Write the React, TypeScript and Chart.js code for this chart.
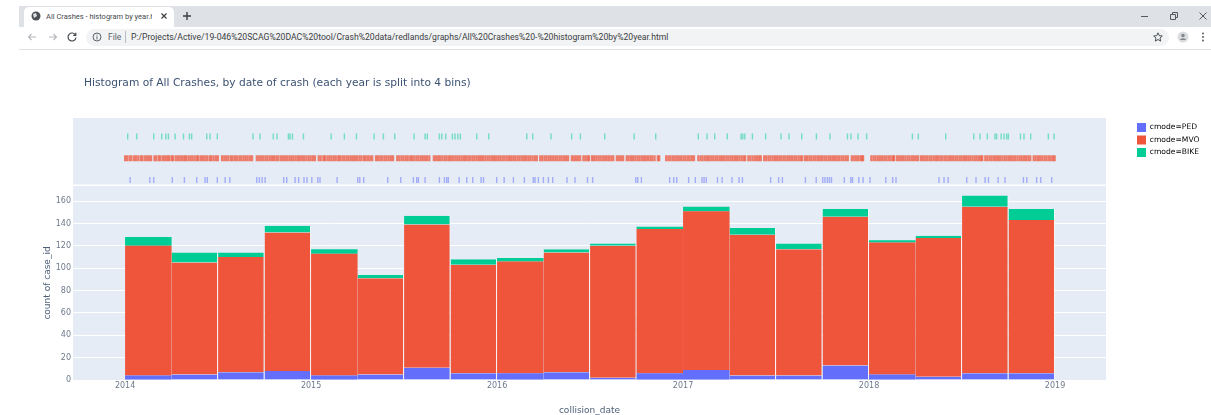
import React, { useEffect, useRef } from "react";
import { Chart, registerables } from "chart.js";

Chart.register(...registerables);

const binStarts = [
  2014, 2014.25, 2014.5, 2014.75, 2015, 2015.25, 2015.5, 2015.75, 2016, 2016.25,
  2016.5, 2016.75, 2017, 2017.25, 2017.5, 2017.75, 2018, 2018.25, 2018.5, 2018.75,
];
const pedCounts = [4, 5, 7, 8, 4, 5, 11, 6, 6, 7, 2, 6, 9, 4, 4, 13, 5, 3, 6, 6];
const mvoCounts = [116, 100, 103, 124, 109, 86, 128, 97, 100, 107, 118, 129, 142, 126, 113, 133, 118, 124, 149, 137];
const bikeCounts = [8, 9, 4, 6, 4, 3, 8, 5, 3, 3, 2, 2, 4, 6, 5, 7, 2, 2, 10, 10];

const yearTicks = [2014, 2015, 2016, 2017, 2018, 2019];
const countTicks = [0, 20, 40, 60, 80, 100, 120, 140, 160];

// Rug values: position inside the period, in years since 2014
const pedRug = [
  0.027, 0.133, 0.154, 0.254, 0.319, 0.385, 0.43, 0.442, 0.496, 0.538, 0.563, 0.708, 0.722, 0.737, 0.753, 0.853, 0.869,
  0.914, 0.933, 0.962, 0.978, 1.004, 1.036, 1.048, 1.14, 1.251, 1.262, 1.283, 1.412, 1.482, 1.55, 1.568, 1.577, 1.613,
  1.69, 1.717, 1.729, 1.738, 1.796, 1.837, 1.869, 1.914, 1.927, 1.998, 2.038, 2.088, 2.147, 2.195, 2.204, 2.222, 2.249,
  2.276, 2.299, 2.376, 2.419, 2.486, 2.514, 2.746, 2.756, 2.776, 2.928, 2.95, 2.966, 3.03, 3.066, 3.102, 3.113, 3.125,
  3.185, 3.21, 3.263, 3.301, 3.319, 3.471, 3.514, 3.534, 3.658, 3.716, 3.751, 3.763, 3.776, 3.787, 3.798, 3.867, 3.902,
  3.911, 3.945, 3.968, 4.005, 4.09, 4.127, 4.145, 4.376, 4.403, 4.425, 4.525, 4.575, 4.624, 4.642, 4.694, 4.731, 4.83,
  4.848, 4.901, 4.923, 4.982,
];
const bikeRug = [
  0.014, 0.063, 0.154, 0.197, 0.219, 0.233, 0.269, 0.314, 0.346, 0.358, 0.439, 0.457, 0.496, 0.688, 0.726, 0.797, 0.817,
  0.878, 0.887, 0.9, 0.959, 1.108, 1.179, 1.244, 1.339, 1.389, 1.45, 1.554, 1.613, 1.625, 1.69, 1.703, 1.724, 1.76,
  1.774, 1.789, 1.803, 1.891, 1.955, 2.16, 2.192, 2.29, 2.401, 2.448, 2.579, 2.737, 2.853, 3.082, 3.129, 3.17, 3.238,
  3.312, 3.321, 3.332, 3.373, 3.444, 3.527, 3.57, 3.638, 3.717, 3.79, 3.884, 3.903, 3.941, 3.987, 4.233, 4.265, 4.412,
  4.563, 4.597, 4.636, 4.677, 4.686, 4.71, 4.726, 4.74, 4.749, 4.814, 4.833, 4.869, 4.964, 4.995,
];
const mvoRug2014 = [
  0.0, 0.011, 0.024, 0.034, 0.048, 0.059, 0.071, 0.084, 0.093, 0.106, 0.118, 0.129, 0.14, 0.158, 0.168, 0.181, 0.19,
  0.203, 0.214, 0.226, 0.236, 0.249, 0.258, 0.272, 0.283, 0.294, 0.306, 0.318, 0.327, 0.34, 0.351, 0.362, 0.374, 0.386,
  0.395, 0.408, 0.419, 0.431, 0.442, 0.455, 0.464, 0.476, 0.488, 0.499, 0.521, 0.533, 0.544, 0.555, 0.568, 0.578, 0.59,
  0.601, 0.614, 0.625, 0.637, 0.648, 0.659, 0.671, 0.683, 0.708, 0.72, 0.732, 0.743, 0.755, 0.766, 0.778, 0.79, 0.801,
  0.813, 0.824, 0.837, 0.848, 0.859, 0.871, 0.883, 0.894, 0.905, 0.917, 0.929, 0.94, 0.952, 0.963, 0.975, 0.987, 0.998,
];
const mvoRug2015 = [
  1.01, 1.021, 1.041, 1.052, 1.066, 1.075, 1.088, 1.099, 1.11, 1.122, 1.133, 1.146, 1.155, 1.168, 1.179, 1.191, 1.202,
  1.214, 1.226, 1.237, 1.248, 1.26, 1.271, 1.284, 1.294, 1.306, 1.318, 1.329, 1.349, 1.36, 1.372, 1.383, 1.395, 1.406,
  1.418, 1.43, 1.441, 1.463, 1.474, 1.486, 1.497, 1.509, 1.52, 1.533, 1.543, 1.555, 1.567, 1.578, 1.59, 1.601, 1.613,
  1.624, 1.636, 1.66, 1.671, 1.683, 1.694, 1.706, 1.718, 1.729, 1.741, 1.752, 1.764, 1.776, 1.787, 1.798, 1.81, 1.822,
  1.833, 1.845, 1.856, 1.868, 1.879, 1.891, 1.903, 1.914, 1.925, 1.937, 1.949, 1.96, 1.972, 1.983, 1.994,
];
const mvoRug2016 = [
  2.006, 2.017, 2.029, 2.04, 2.052, 2.064, 2.075, 2.087, 2.098, 2.11, 2.121, 2.133, 2.145, 2.156, 2.168, 2.179, 2.191,
  2.203, 2.214, 2.232, 2.243, 2.255, 2.266, 2.278, 2.289, 2.301, 2.313, 2.324, 2.336, 2.347, 2.359, 2.37, 2.382, 2.402,
  2.413, 2.425, 2.436, 2.447, 2.464, 2.475, 2.486, 2.494, 2.51, 2.521, 2.533, 2.545, 2.556, 2.568, 2.579, 2.59, 2.602,
  2.614, 2.625, 2.644, 2.655, 2.667, 2.678, 2.697, 2.708, 2.72, 2.731, 2.743, 2.755, 2.766, 2.778, 2.789, 2.8, 2.812,
  2.824, 2.835, 2.847, 2.864, 2.872, 2.909, 2.921, 2.932, 2.944, 2.955, 2.967, 2.979, 2.99,
];
const mvoRug2017 = [
  3.002, 3.013, 3.025, 3.036, 3.048, 3.059, 3.082, 3.094, 3.105, 3.117, 3.129, 3.14, 3.152, 3.163, 3.175, 3.186, 3.198,
  3.21, 3.221, 3.233, 3.244, 3.256, 3.267, 3.279, 3.29, 3.302, 3.314, 3.325, 3.334, 3.351, 3.362, 3.374, 3.386, 3.397,
  3.409, 3.418, 3.436, 3.447, 3.459, 3.47, 3.482, 3.494, 3.505, 3.517, 3.528, 3.54, 3.551, 3.563, 3.574, 3.586, 3.598,
  3.609, 3.621, 3.632, 3.641, 3.656, 3.667, 3.679, 3.69, 3.702, 3.713, 3.725, 3.737, 3.748, 3.76, 3.771, 3.783, 3.794,
  3.806, 3.817, 3.829, 3.84, 3.852, 3.863, 3.875, 3.886, 3.907, 3.918, 3.93, 3.941, 3.953, 3.962, 3.968,
];
const mvoRug2018 = [
  4.012, 4.024, 4.035, 4.047, 4.058, 4.07, 4.082, 4.093, 4.105, 4.116, 4.128, 4.134, 4.149, 4.16, 4.172, 4.183, 4.195,
  4.207, 4.218, 4.23, 4.241, 4.253, 4.264, 4.279, 4.29, 4.302, 4.313, 4.325, 4.336, 4.348, 4.36, 4.371, 4.383, 4.394,
  4.406, 4.417, 4.429, 4.44, 4.452, 4.464, 4.475, 4.487, 4.498, 4.51, 4.521, 4.533, 4.544, 4.556, 4.568, 4.579, 4.591,
  4.602, 4.609, 4.625, 4.636, 4.648, 4.659, 4.671, 4.682, 4.694, 4.705, 4.717, 4.729, 4.74, 4.752, 4.763, 4.775, 4.786,
  4.798, 4.81, 4.821, 4.833, 4.844, 4.856, 4.867, 4.885, 4.896, 4.908, 4.919, 4.931, 4.943, 4.954, 4.966, 4.977, 4.989,
  4.998,
];

const seriesNames = ["cmode=PED", "cmode=MVO", "cmode=BIKE"];
const PED = "#636efa";
const MVO = "#ef553b";
const BIKE = "#00cc96";
const FONT = "'DejaVu Sans', Verdana, sans-serif";
const TICK = "#6d7a8c";
const boundariesWithGap = [1, 2, 3, 5, 6, 7, 9, 10, 13, 14, 15, 17, 18, 19];

const rugPoints = (values: number[], row: number) => values.map((v) => ({ x: 2014 + v, y: row }));
const barPoints = (counts: number[]) => counts.map((y, i) => ({ x: binStarts[i] + 0.125, y }));

const chromePlugin = {
  id: "plotFrame",
  beforeLayout(chart: any) {
    const legend = chart.legend;
    if (legend && !legend.__sized) {
      legend.__sized = true;
      const fit = legend.fit;
      legend.fit = function () {
        fit.call(legend);
        legend.width = 105;
      };
    }
  },
  afterLayout(chart: any) {
    chart.titleBlock.left = 84;
    chart.legend.left = 1133.5;
    chart.legend.top = 119.5;
  },
  beforeDraw(chart: any) {
    const { ctx, chartArea } = chart;
    ctx.save();
    ctx.fillStyle = "#e5ecf6";
    ctx.fillRect(chartArea.left, chartArea.top, chartArea.right - chartArea.left, chartArea.bottom - chartArea.top);
    ctx.fillStyle = "#ffffff";
    ctx.fillRect(chartArea.left, chart.scales.y.top - 1.5, chartArea.right - chartArea.left, 1.5);
    ctx.restore();
  },
};

function Icon({ x, y, children }: { x: number; y: number; children: React.ReactNode }) {
  return (
    <svg style={{ position: "absolute", left: x, top: y }} width={14} height={14} viewBox="0 0 14 14">
      {children}
    </svg>
  );
}

function Browser() {
  const label: React.CSSProperties = {
    position: "absolute",
    fontFamily: "Roboto, sans-serif",
    whiteSpace: "nowrap",
    color: "#5f6368",
  };
  return (
    <div style={{ position: "absolute", left: 0, top: 0, width: 1211, height: 50 }}>
      <div style={{ position: "absolute", left: 19, top: 6, width: 1192, height: 21, background: "#dee1e6" }} />
      <div style={{ position: "absolute", left: 24, top: 7, width: 150, height: 20, background: "#fff", borderRadius: "5px 5px 0 0" }} />
      <div style={{ position: "absolute", left: 19, top: 27, width: 1192, height: 22, background: "#fff", borderBottom: "1px solid #dfe1e5" }} />
      <div style={{ position: "absolute", left: 86, top: 29, width: 1083, height: 17, background: "#f1f3f4", borderRadius: 9 }} />
      <Icon x={29} y={9}>
        <circle cx="7" cy="7" r="4.5" fill="#4d5156" />
        <path d="M4 5 L7 4 L8 7 L5 9 Z" fill="#dfe1e5" />
      </Icon>
      <div style={{ ...label, left: 46, top: 11, width: 106, overflow: "hidden", fontSize: 7.5, lineHeight: "11px", color: "#45494e" }}>
        All Crashes - histogram by year.html
      </div>
      <Icon x={157} y={9}>
        <path d="M4.5 4.5 L9.5 9.5 M9.5 4.5 L4.5 9.5" stroke="#3c4043" strokeWidth="1.2" />
      </Icon>
      <Icon x={180} y={9}>
        <path d="M7 3 V11 M3 7 H11" stroke="#3c4043" strokeWidth="1.4" />
      </Icon>
      <Icon x={25} y={30}>
        <path d="M11 7 H3.5 M6.5 4 L3.5 7 L6.5 10" stroke="#b4b7bb" strokeWidth="1.1" fill="none" />
      </Icon>
      <Icon x={46} y={30}>
        <path d="M3 7 H10.5 M7.5 4 L10.5 7 L7.5 10" stroke="#b4b7bb" strokeWidth="1.1" fill="none" />
      </Icon>
      <Icon x={65} y={30}>
        <path d="M10.5 5 A4 4 0 1 0 11 7.5 M10.8 2.8 V5.4 H8.2" stroke="#4a4e52" strokeWidth="1.2" fill="none" />
      </Icon>
      <Icon x={90} y={30}>
        <circle cx="7" cy="7" r="4" stroke="#5f6368" strokeWidth="1" fill="none" />
        <path d="M7 6.3 V9.4 M7 4.6 V5.5" stroke="#5f6368" strokeWidth="1" />
      </Icon>
      <div style={{ ...label, left: 108, top: 32, fontSize: 8.5, lineHeight: "11px" }}>File</div>
      <div style={{ position: "absolute", left: 125, top: 31, width: 1, height: 12, background: "#b8bcc0" }} />
      <div style={{ ...label, left: 131, top: 32, fontSize: 8.65, lineHeight: "11px", color: "#3c4043" }}>
        P:/Projects/Active/19-046%20SCAG%20DAC%20tool/Crash%20data/redlands/graphs/All%20Crashes%20-%20histogram%20by%20year.html
      </div>
      <Icon x={1151} y={30}>
        <path d="M7 2.8 L8.3 5.7 L11.3 6 L9 8.1 L9.7 11.1 L7 9.5 L4.3 11.1 L5 8.1 L2.7 6 L5.7 5.7 Z" stroke="#4a4e52" strokeWidth="1" fill="none" />
      </Icon>
      <Icon x={1176} y={30}>
        <circle cx="7" cy="7" r="5.5" fill="#dadce0" />
        <circle cx="7" cy="5.5" r="1.7" fill="#80868b" />
        <path d="M3.8 10 A3.4 2.6 0 0 1 10.2 10 Z" fill="#80868b" />
      </Icon>
      <Icon x={1196} y={30}>
        <circle cx="7" cy="3.5" r="0.9" fill="#4a4e52" />
        <circle cx="7" cy="7" r="0.9" fill="#4a4e52" />
        <circle cx="7" cy="10.5" r="0.9" fill="#4a4e52" />
      </Icon>
      <Icon x={1138} y={9}>
        <path d="M3 7.5 H10" stroke="#55585c" strokeWidth="1" />
      </Icon>
      <Icon x={1167} y={9}>
        <path d="M3.5 5.5 H8.5 V10.5 H3.5 Z M5.5 5.5 V3.5 H10.5 V8.5 H8.5" stroke="#55585c" strokeWidth="1" fill="none" />
      </Icon>
      <Icon x={1196} y={9}>
        <path d="M3.5 3.5 L10.5 10.5 M10.5 3.5 L3.5 10.5" stroke="#55585c" strokeWidth="1" />
      </Icon>
    </div>
  );
}

export default function App() {
  const ref = useRef<HTMLCanvasElement>(null);

  useEffect(() => {
    document.body.style.margin = "0";
    document.body.style.background = "#fff";
    const barCommon = {
      stack: "crashes",
      xAxisID: "x",
      yAxisID: "y",
      barPercentage: 1,
      categoryPercentage: 1,
      borderSkipped: false,
      inflateAmount: 0,
      borderColor: "rgba(255,255,255,0.75)",
      borderWidth: (c: any) => ({ left: 0, top: 0, bottom: 0, right: boundariesWithGap.includes(c.dataIndex) ? 1 : 0 }),
    };
    const rugCommon = {
      type: "scatter",
      xAxisID: "x",
      yAxisID: "yRug",
      pointStyle: "line",
      pointRotation: 90,
      pointRadius: 3,
      pointHoverRadius: 3,
    };
    const chart = new Chart(ref.current as HTMLCanvasElement, {
      type: "bar",
      data: {
        datasets: [
          { ...barCommon, label: seriesNames[0], data: barPoints(pedCounts), backgroundColor: PED },
          { ...barCommon, label: seriesNames[1], data: barPoints(mvoCounts), backgroundColor: MVO },
          { ...barCommon, label: seriesNames[2], data: barPoints(bikeCounts), backgroundColor: BIKE },
          { ...rugCommon, label: "rug PED", data: rugPoints(pedRug, 0), pointBorderColor: "rgba(99,110,250,0.5)", pointBorderWidth: 1.4 },
          {
            ...rugCommon,
            label: "rug MVO",
            data: rugPoints([...mvoRug2014, ...mvoRug2015, ...mvoRug2016, ...mvoRug2017, ...mvoRug2018], 1),
            pointBorderColor: "rgba(239,85,59,0.75)",
            pointBorderWidth: 2.2,
          },
          { ...rugCommon, label: "rug BIKE", data: rugPoints(bikeRug, 2), pointBorderColor: "rgba(0,204,150,0.5)", pointBorderWidth: 1.4 },
        ] as any,
      },
      options: {
        animation: false,
        responsive: false,
        layout: { padding: 0 },
        scales: {
          x: {
            type: "linear",
            offset: false,
            min: 2013.72,
            max: 2019.274,
            afterBuildTicks: (s: any) => {
              s.ticks = yearTicks.map((value) => ({ value }));
            },
            afterFit: (s: any) => {
              s.height = 35;
            },
            grid: { display: false, drawTicks: false },
            border: { display: false },
            ticks: {
              autoSkip: false,
              maxRotation: 0,
              padding: 1,
              color: TICK,
              font: { family: FONT, size: 8 },
              callback: (v: any) => String(v),
            },
            title: {
              display: true,
              text: "collision_date",
              color: "#4d5f78",
              font: { family: FONT, size: 9 },
              padding: { top: 0, bottom: -1 },
            },
          },
          y: {
            type: "linear",
            position: "left",
            stack: "panels",
            stackWeight: 194,
            stacked: true,
            min: 0,
            max: 173.5,
            weight: 0,
            afterBuildTicks: (s: any) => {
              s.ticks = countTicks.map((value) => ({ value }));
            },
            afterFit: (s: any) => {
              s.width = 73;
            },
            grid: { color: "#ffffff", lineWidth: 1, drawTicks: false },
            border: { display: false },
            ticks: { padding: 2, color: TICK, font: { family: FONT, size: 8 } },
            title: {
              display: true,
              text: "count of case_id",
              color: "#4d5f78",
              font: { family: FONT, size: 9 },
              padding: { top: 42, bottom: 0 },
            },
          },
          yRug: {
            type: "linear",
            position: "left",
            stack: "panels",
            stackWeight: 68,
            min: -0.275,
            max: 2.85,
            weight: 1,
            afterBuildTicks: (s: any) => {
              s.ticks = [];
            },
            afterFit: (s: any) => {
              s.width = 73;
            },
            grid: { display: false },
            border: { display: false },
            ticks: { display: false },
          },
        },
        plugins: {
          tooltip: { enabled: false },
          title: {
            display: true,
            text: "Histogram of All Crashes, by date of crash (each year is split into 4 bins)",
            align: "start",
            color: "#3c5273",
            font: { family: FONT, size: 10.67, weight: "normal" },
            padding: { top: 77, bottom: 28.2 },
          },
          legend: {
            display: true,
            position: "right",
            align: "start",
            labels: {
              boxWidth: 9,
              boxHeight: 9,
              padding: 3.5,
              color: "#5a6b82",
              font: { family: FONT, size: 7.6 },
              generateLabels: () =>
                [PED, MVO, BIKE].map((fillStyle, i) => ({
                  text: seriesNames[i],
                  fillStyle,
                  strokeStyle: fillStyle,
                  lineWidth: 0,
                  hidden: false,
                  datasetIndex: i,
                })),
            },
          },
        },
      } as any,
      plugins: [chromePlugin],
    });
    return () => chart.destroy();
  }, []);

  return (
    <div style={{ position: "relative", width: 1211, height: 415, overflow: "hidden", background: "#fff" }}>
      <canvas ref={ref} width={1211} height={415} style={{ position: "absolute", left: 0, top: 0, display: "block" }} />
      <Browser />
    </div>
  );
}
